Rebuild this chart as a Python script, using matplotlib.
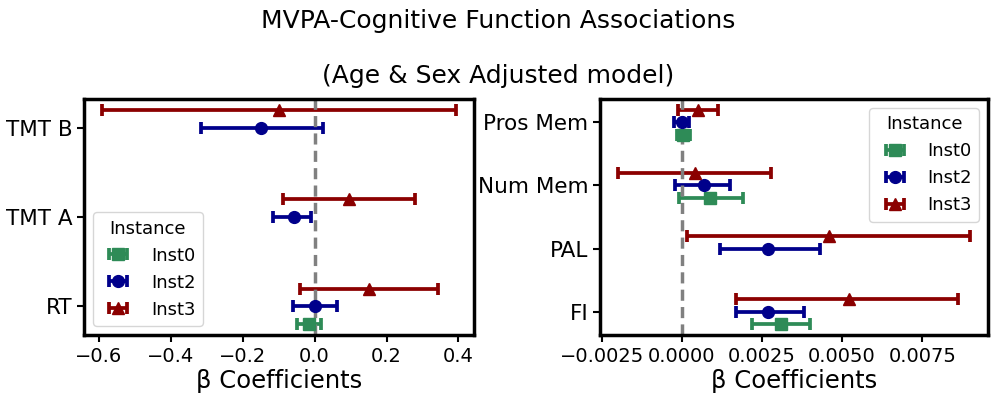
import numpy as np
import matplotlib
matplotlib.use("Agg")
import matplotlib.pyplot as plt
from matplotlib.ticker import MultipleLocator

## data

instances = ["Inst0", "Inst2", "Inst3"]
colors = ["seagreen", "darkblue", "darkred"]
markers = ["s", "o", "^"]
offsets = [0.2, 0.0, -0.2]

# left panel: timed tasks
left_tests = ["TMT B", "TMT A", "RT"]
left_beta = {
    "Inst0": [np.nan, np.nan, -0.016],
    "Inst2": [-0.148, -0.058, 0.001],
    "Inst3": [-0.099, 0.097, 0.150],
}
left_lo = {
    "Inst0": [np.nan, np.nan, -0.048],
    "Inst2": [-0.317, -0.116, -0.061],
    "Inst3": [-0.592, -0.089, -0.041],
}
left_hi = {
    "Inst0": [np.nan, np.nan, 0.017],
    "Inst2": [0.022, -0.009, 0.061],
    "Inst3": [0.394, 0.280, 0.342],
}

# right panel: memory / reasoning
right_tests = ["Pros Mem", "Num Mem", "PAL", "FI"]
right_beta = {
    "Inst0": [0.00005, 0.00089, np.nan, 0.0031],
    "Inst2": [0.0, 0.00068, 0.00269, 0.00269],
    "Inst3": [0.0005, 0.0004, 0.0046, 0.0052],
}
right_lo = {
    "Inst0": [-0.00015, -0.0001, np.nan, 0.0022],
    "Inst2": [-0.00023, -0.00021, 0.0012, 0.0017],
    "Inst3": [-0.000125, -0.002, 0.00017, 0.0017],
}
right_hi = {
    "Inst0": [0.00025, 0.0019, np.nan, 0.004],
    "Inst2": [0.00022, 0.00151, 0.0043, 0.0038],
    "Inst3": [0.001125, 0.00279, 0.009, 0.0086],
}


## plot

fig = plt.figure(figsize=(9.97, 3.99), dpi=100)
ax_l = fig.add_axes([84/997, 64/399, 390/997, 236/399])
ax_r = fig.add_axes([600/997, 64/399, 388/997, 236/399])


def forest(ax, tests, beta, lo, hi, loc):
    y = np.arange(len(tests))
    for k, inst in enumerate(instances):
        b = np.array(beta[inst])
        err = [b - np.array(lo[inst]), np.array(hi[inst]) - b]
        ax.errorbar(b, y + offsets[k], xerr=err, fmt=markers[k], color=colors[k],
                    ms=8.5, elinewidth=2.7, capsize=4, capthick=2.7, label=inst)
    ax.axvline(0, color="grey", ls="--", lw=2.5, dashes=(3.2, 1.8))
    ax.set_yticks(y)
    ax.set_yticklabels(tests, fontsize=15.5)
    ax.invert_yaxis()
    ax.tick_params(axis="x", labelsize=14, width=1.5, length=5)
    ax.tick_params(axis="y", width=1.5, length=5)
    ax.set_xlabel("β Coefficients", fontsize=17.5, labelpad=2)
    for s in ax.spines.values():
        s.set_linewidth(2.5)
    ax.legend(title="Instance", loc=loc, fontsize=13, title_fontsize=13)


forest(ax_l, left_tests, left_beta, left_lo, left_hi, "lower left")
forest(ax_r, right_tests, right_beta, right_lo, right_hi, "upper right")
ax_r.xaxis.set_major_locator(MultipleLocator(0.0025))

fig.suptitle("MVPA-Cognitive Function Associations\n\n(Age & Sex Adjusted model)",
             fontsize=18, y=0.978)

plt.savefig("out.png", dpi=100)
